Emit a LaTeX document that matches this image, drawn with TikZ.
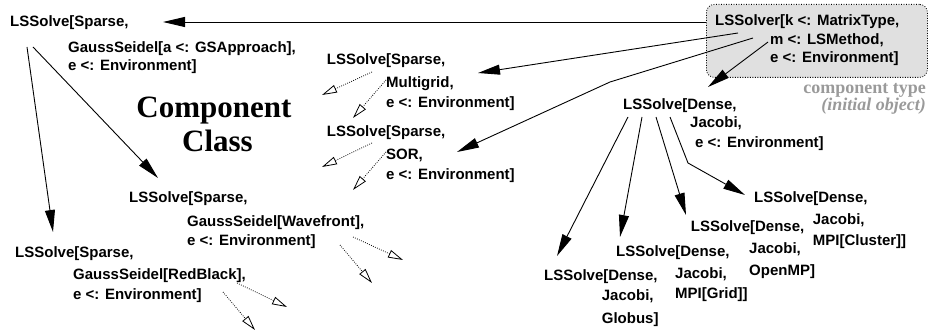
\documentclass[tikz,border=0pt]{standalone}
\usepackage{fontspec}
\setmainfont{Liberation Serif}
\setsansfont{Liberation Sans}
\usetikzlibrary{arrows.meta}
\definecolor{boxfill}{HTML}{E0E0E0}
\definecolor{typegray}{HTML}{9A9A9A}
\begin{document}
\begin{tikzpicture}[x=1pt,y=-1pt,
  lbl/.style={anchor=base west,inner sep=0pt,font=\sffamily\bfseries\fontsize{15}{18}\selectfont},
  sol/.style={line width=0.9pt,-{Triangle[length=22pt,width=10pt]}},
  dot/.style={line width=0.8pt,dash pattern=on 0.8pt off 1.4pt,-{Triangle[open,length=15pt,width=8pt,line width=0.8pt,sep=0pt]}}]
\useasboundingbox (0,0) rectangle (929,331);
% component type box
\node[draw,dash pattern=on 0.9pt off 1.6pt,line width=0.8pt,fill=boxfill,rounded corners=8pt,
  minimum width=221pt,minimum height=73pt,inner sep=0pt,anchor=north west] (box) at (706,4) {};
% labels
\node[lbl] (a1) at (10,26.5) {LSSolve[Sparse,};
\node[lbl] (a2) at (68,53) {GaussSeidel[a <: GSApproach],};
\node[lbl] (a3) at (68,70.5) {e <: Environment]};
\node[lbl] (b1) at (326.7,65) {LSSolve[Sparse,};
\node[lbl] (b2) at (386,88) {Multigrid,};
\node[lbl] (b3) at (386,108) {e <: Environment]};
\node[lbl] (c1) at (326.7,137) {LSSolve[Sparse,};
\node[lbl] (c2) at (386,160) {SOR,};
\node[lbl] (c3) at (386,180) {e <: Environment]};
\node[lbl] (d1) at (129,203) {LSSolve[Sparse,};
\node[lbl] (d2) at (187,226) {GaussSeidel[Wavefront],};
\node[lbl] (d3) at (187,246) {e <: Environment]};
\node[lbl] (e1) at (15,258) {LSSolve[Sparse,};
\node[lbl] (e2) at (73,279) {GaussSeidel[RedBlack],};
\node[lbl] (e3) at (73,299) {e <: Environment]};
\node[lbl] (f1) at (715,26) {LSSolver[k <: MatrixType,};
\node[lbl] (f2) at (770,44.5) {m <: LSMethod,};
\node[lbl] (f3) at (770,63) {e <: Environment]};
\node[lbl] (g1) at (623,110) {LSSolve[Dense,};
\node[lbl] (g2) at (690,128) {Jacobi,};
\node[lbl] (g3) at (695,148) {e <: Environment]};
\node[lbl] (h1) at (754,203) {LSSolve[Dense,};
\node[lbl] (h2) at (812.7,225) {Jacobi,};
\node[lbl] (h3) at (812.7,246) {MPI[Cluster]]};
\node[lbl] (i1) at (690.7,231.7) {LSSolve[Dense,};
\node[lbl] (i2) at (749,253) {Jacobi,};
\node[lbl] (i3) at (749,276) {OpenMP]};
\node[lbl] (j1) at (616,256.7) {LSSolve[Dense,};
\node[lbl] (j2) at (675,278) {Jacobi,};
\node[lbl] (j3) at (675,298) {MPI[Grid]]};
\node[lbl] (k1) at (544,280) {LSSolve[Dense,};
\node[lbl] (k2) at (601.7,300) {Jacobi,};
\node[lbl] (k3) at (601.7,323) {Globus]};
% titles
\node[anchor=base,inner sep=0pt,font=\rmfamily\bfseries\fontsize{31}{34}\selectfont] (cc1) at (214,118) {Component};
\node[anchor=base,inner sep=0pt,font=\rmfamily\bfseries\fontsize{31}{34}\selectfont] (cc2) at (217.5,151.7) {Class};
\node[anchor=base east,inner sep=0pt,text=typegray,align=right,
  font=\rmfamily\bfseries\fontsize{18}{15.5}\selectfont] (ct) at (926,110.5)
  {component type\\\itshape (initial object)};
% connector end points
\coordinate (s1) at (box.west |- 0,22);  \coordinate (t1) at (163,22);
\coordinate (s2) at (738,33);  \coordinate (t2) at (478,73);
\coordinate (s3) at (753,38);  \coordinate (m3) at (610,82); \coordinate (t3) at (457,152);
\coordinate (s4) at (768,42);  \coordinate (t4) at (708,87);
\coordinate (s5) at (27,47);   \coordinate (t5) at (53,232);
\coordinate (s6) at (33,47);   \coordinate (t6) at (158,178);
\coordinate (s7) at (628,117); \coordinate (t7) at (557,256);
\coordinate (s8) at (642,117); \coordinate (t8) at (620,237);
\coordinate (s9) at (656,117); \coordinate (t9) at (686,215);
\coordinate (s10) at (670,117); \coordinate (m10) at (688,163); \coordinate (t10) at (745,195);
% solid connectors
\draw[sol] (s1) -- (t1);
\draw[sol] (s2) -- (t2);
\draw[sol] (s3) -- (m3) -- (t3);
\draw[sol] (s4) -- (t4);
\draw[sol] (s5) -- (t5);
\draw[sol] (s6) -- (t6);
\draw[sol] (s7) -- (t7);
\draw[sol] (s8) -- (t8);
\draw[sol] (s9) -- (t9);
\draw[sol] (s10) -- (m10) -- (t10);
% dotted open-head connectors
\coordinate (p1) at (372,72);  \coordinate (q1) at (322,95);
\coordinate (p2) at (386,80);  \coordinate (q2) at (353,118);
\coordinate (p3) at (372,143); \coordinate (q3) at (322,167);
\coordinate (p4) at (386,152); \coordinate (q4) at (353,190);
\coordinate (p5) at (353,237); \coordinate (q5) at (403,260);
\coordinate (p6) at (340,245); \coordinate (q6) at (372,283);
\coordinate (p7) at (237,283); \coordinate (q7) at (287,307);
\coordinate (p8) at (223,292); \coordinate (q8) at (255,330);
\foreach \n in {1,...,8} {\draw[dot] (p\n) -- (q\n);}
\end{tikzpicture}
\end{document}
